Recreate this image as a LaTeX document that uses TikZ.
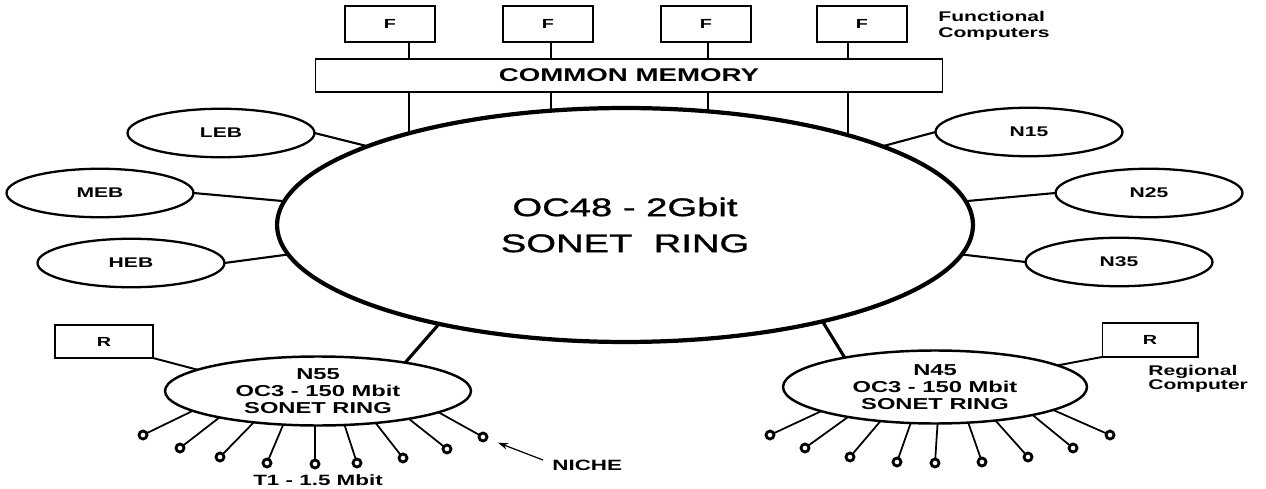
\documentclass[tikz,border=0pt]{standalone}
\usepackage{fontspec}
\setmainfont{Liberation Sans}[FakeStretch=1.5]
\newfontfamily\ringfont{Liberation Sans}[FakeStretch=1.5, FakeBold=1.2]
\usetikzlibrary{arrows.meta, shapes.geometric}

\begin{document}
\begin{tikzpicture}[x=0.02cm, y=-0.02cm,
    every node/.style={font=\bfseries\fontsize{8}{9}\selectfont},
    ring/.style={draw, ellipse, line width=1.3pt, inner sep=0pt, outer sep=0pt},
    node ring/.style={ring, minimum width=3.74cm, minimum height=0.97cm},
    box/.style={draw, rectangle, line width=0.6pt, inner sep=0pt, outer sep=0pt},
    note/.style={inner sep=0pt, align=left},
    link/.style={line width=1.2pt},
    bus/.style={line width=1.1pt},
    stub/.style={line width=1pt},
    tap/.style={draw, circle, line width=1.6pt, inner sep=0pt, outer sep=0pt, minimum size=0.16cm}
]
\useasboundingbox (0,0) rectangle (1266,489);

% Main ring
\node[ring, line width=2.4pt, minimum width=13.92cm, minimum height=4.68cm, align=center,
    font=\ringfont\fontsize{14.5}{20.5}\selectfont] (oc48) at (625,225) {OC48 - 2Gbit\\SONET\ \ RING};

% Common memory and functional computers
\node[box, minimum width=12.56cm, minimum height=0.66cm, font=\bfseries\fontsize{10.5}{12}\selectfont]
    (mem) at (629,75.5) {COMMON MEMORY};
\node[box, minimum width=1.8cm, minimum height=0.72cm, font=\bfseries\fontsize{7.5}{9}\selectfont] (f1) at (390,24) {F};
\node[box, minimum width=1.8cm, minimum height=0.72cm, font=\bfseries\fontsize{7.5}{9}\selectfont] (f2) at (548,24) {F};
\node[box, minimum width=1.8cm, minimum height=0.72cm, font=\bfseries\fontsize{7.5}{9}\selectfont] (f3) at (706,24) {F};
\node[box, minimum width=1.8cm, minimum height=0.72cm, font=\bfseries\fontsize{7.5}{9}\selectfont] (f4) at (862,24) {F};
\node[note, anchor=west] (fc) at (938,26) {Functional\\Computers};

\draw[bus] (oc48.157 |- f1.south) -- (oc48.157 |- mem.north);
\draw[bus] (oc48.123 |- f2.south) -- (oc48.123 |- mem.north);
\draw[bus] (oc48.54 |- f3.south) -- (oc48.54 |- mem.north);
\draw[bus] (oc48.22 |- f4.south) -- (oc48.22 |- mem.north);
\draw[bus] (oc48.157 |- mem.south) -- (oc48.157);
\draw[bus] (oc48.123 |- mem.south) -- (oc48.123);
\draw[bus] (oc48.54 |- mem.south) -- (oc48.54);
\draw[bus] (oc48.22 |- mem.south) -- (oc48.22);

% Nodes on the left
\node[node ring] (leb) at (221,133) {LEB};
\node[node ring] (meb) at (100,193) {MEB};
\node[node ring] (heb) at (131,263) {HEB};
\draw[link] (leb.east) -- (oc48.163);
\draw[link] (meb.east) -- (oc48.176);
\draw[link] (heb.east) -- (oc48.185);

% Nodes on the right
\node[node ring] (n15) at (1029,132) {N15};
\node[node ring] (n25) at (1149,193) {N25};
\node[node ring] (n35) at (1119,262) {N35};
\draw[link] (n15.west) -- (oc48.17);
\draw[link] (n25.west) -- (oc48.4);
\draw[link] (n35.west) -- (oc48.-5);

% Regional rings
\node[ring, line width=1.4pt, minimum width=6.12cm, minimum height=1.38cm, align=center,
    font=\bfseries\fontsize{9}{9.6}\selectfont] (n55) at (318,391) {N55\\OC3 - 150 Mbit\\SONET RING};
\node[ring, line width=1.4pt, minimum width=6.08cm, minimum height=1.46cm, align=center,
    font=\bfseries\fontsize{9}{9.6}\selectfont] (n45) at (935,387) {N45\\OC3 - 150 Mbit\\SONET RING};
\draw[link, line width=1.8pt] (n55.18) -- (oc48.208);
\draw[link, line width=1.8pt] (n45.162) -- (oc48.334);

% Regional computers
\node[box, minimum width=1.96cm, minimum height=0.66cm, font=\bfseries\fontsize{7.5}{9}\selectfont] (rl) at (104,341.5) {R};
\node[box, minimum width=1.92cm, minimum height=0.68cm, font=\bfseries\fontsize{7.5}{9}\selectfont] (rr) at (1150,340) {R};
\draw[bus] (rl.south east) -- (n55.170);
\draw[bus] (rr.south west) -- (n45.10);
\node[note, anchor=west, font=\bfseries\fontsize{8}{7.8}\selectfont] (rc) at (1148,379) {Regional\\Computer};

% T1 taps on N55
\node[tap] (t1) at (143,435) {}; \draw[stub] (n55.189) -- (t1);
\node[tap] (t2) at (180,448) {}; \draw[stub] (n55.195) -- (t2);
\node[tap] (t3) at (220,457) {}; \draw[stub] (n55.206) -- (t3);
\node[tap] (t4) at (267,463) {}; \draw[stub] (n55.224) -- (t4);
\node[tap] (t5) at (315,464) {}; \draw[stub] (n55.265) -- (t5);
\node[tap] (t6) at (357,463) {}; \draw[stub] (n55.308) -- (t6);
\node[tap] (t7) at (403,458) {}; \draw[stub] (n55.331) -- (t7);
\node[tap] (t8) at (447,449) {}; \draw[stub] (n55.343) -- (t8);
\node[tap] (t9) at (483,437) {}; \draw[stub] (n55.350) -- (t9);
\node[font=\bfseries\fontsize{8.5}{10}\selectfont] (t1lbl) at (318,480) {T1 - 1.5 Mbit};
\node[note, font=\bfseries\fontsize{8.5}{10}\selectfont, anchor=west] (niche) at (552,465) {NICHE};
\draw[-{Stealth[length=0.2cm, width=0.13cm]}, line width=0.7pt, shorten >=0.24cm]
    ([xshift=-0.18cm, yshift=0.1cm]niche.west) -- (t9);

% T1 taps on N45
\node[tap] (u1) at (770,435) {}; \draw[stub] (n45.192) -- (u1);
\node[tap] (u2) at (805,448) {}; \draw[stub] (n45.199) -- (u2);
\node[tap] (u3) at (850,457) {}; \draw[stub] (n45.212) -- (u3);
\node[tap] (u4) at (897,462) {}; \draw[stub] (n45.236) -- (u4);
\node[tap] (u5) at (935,463) {}; \draw[stub] (n45.274) -- (u5);
\node[tap] (u6) at (982,462) {}; \draw[stub] (n45.313) -- (u6);
\node[tap] (u7) at (1028,457) {}; \draw[stub] (n45.331) -- (u7);
\node[tap] (u8) at (1073,448) {}; \draw[stub] (n45.344) -- (u8);
\node[tap] (u9) at (1110,435) {}; \draw[stub] (n45.349) -- (u9);

\end{tikzpicture}
\end{document}
